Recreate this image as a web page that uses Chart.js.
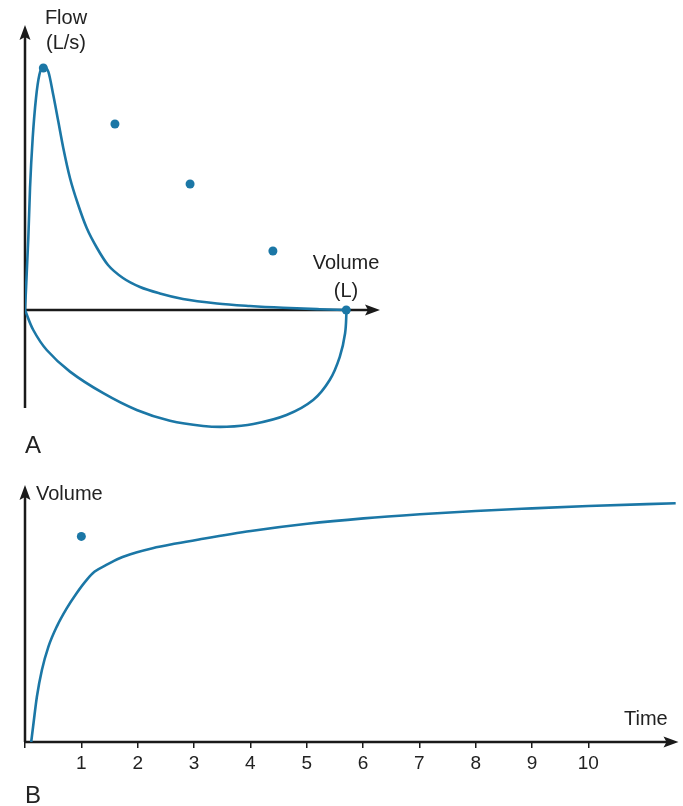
<!DOCTYPE html>
<html>
<head>
<meta charset="utf-8">
<script src="https://cdn.jsdelivr.net/npm/chart.js@4"></script>
<style>
  body { margin: 0; background: #fff; }
  #wrap { position: relative; width: 683px; height: 806px; overflow: hidden; font-family: 'Liberation Sans', Arial, sans-serif; color: #222; }
  canvas { position: absolute; left: 0; }
  .lbl { position: absolute; text-align: center; font-size: 20px; white-space: nowrap; }
  .panel { position: absolute; font-size: 24px; line-height: 28px; }
</style>
</head>
<body>
<div id="wrap">
  <canvas id="loop" width="683" height="460" style="top:0"></canvas>
  <canvas id="curve" width="683" height="336" style="top:470px"></canvas>

  <div class="lbl" style="left:36px; top:5px; width:60px; line-height:25px">Flow<br>(L/s)</div>
  <div class="lbl" style="left:301px; top:248px; width:90px; line-height:28px">Volume<br>(L)</div>
  <div class="panel" style="left:25px; top:431px">A</div>

  <div class="lbl" style="left:36px; top:481px; line-height:24px">Volume</div>
  <div class="lbl" style="left:624px; top:706px; line-height:24px">Time</div>
  <div class="panel" style="left:25px; top:781px">B</div>
</div>

<script>
// A: flow-volume loop
const expVolume = [0, 0.056, 0.085, 0.13, 0.186, 0.242, 0.309, 0.394, 0.478, 0.563, 0.647, 0.76, 0.90, 1.043, 1.217, 1.403, 1.656, 1.944, 2.28, 2.67, 3.245, 3.80, 4.36, 4.985, 5.425]
const expFlow = [0, 1.8, 3.05, 4.3, 5.3, 5.875, 6.08, 5.96, 5.375, 4.71, 4.05, 3.3, 2.625, 2.05, 1.55, 1.125, 0.8, 0.575, 0.4125, 0.275, 0.1625, 0.1, 0.055, 0.02, 0]
const inspVolume = [0, 0.14, 0.367, 0.76, 1.323, 1.888, 2.45, 3.01, 3.41, 3.86, 4.42, 4.87, 5.15, 5.32, 5.41, 5.435]
const inspFlow = [0, -0.5, -1.0, -1.54, -2.08, -2.5, -2.77, -2.9, -2.92, -2.85, -2.625, -2.25, -1.75, -1.17, -0.58, 0]
const dotVolume = [0.31, 1.52, 2.79, 4.19, 5.43]
const dotFlow = [6.05, 4.65, 3.15, 1.475, 0]

// B: volume-time curve
const timeValues = [0.11, 0.151, 0.211, 0.30, 0.416, 0.564, 0.74, 0.916, 1.092, 1.238, 1.444, 1.679, 1.973, 2.265, 2.677, 3.088, 4.01, 5.01, 6.01, 7.01, 8.0, 9.0, 10.0, 11.55]
const volumeValues = [0, 7.3, 17.6, 28.0, 37.1, 44.9, 52.0, 57.9, 63.0, 66.3, 68.9, 71.5, 73.7, 75.4, 77.2, 78.8, 82.1, 84.9, 87.0, 88.6, 89.9, 90.9, 91.8, 92.9]
const dotTime = [1.0]
const dotVolumeB = [80]
const timeTicks = [0, 1, 2, 3, 4, 5, 6, 7, 8, 9, 10]

const blue = '#1b77a6'
const ink = '#1a1a1a'

const toPoints = (xs, ys) => xs.map((x, i) => ({ x, y: ys[i] }))

// draws the two axes with arrow heads
const arrowAxes = {
  id: 'arrowAxes',
  beforeDatasetsDraw(chart, args, opts) {
    const { ctx, scales } = chart
    const xs = scales.x
    const ys = scales.y
    const x0 = xs.getPixelForValue(0)
    const y0 = ys.getPixelForValue(0)
    const xEnd = xs.getPixelForValue(opts.xEnd)
    const yTop = ys.getPixelForValue(opts.yTop)
    const yBottom = ys.getPixelForValue(opts.yBottom)
    ctx.save()
    ctx.strokeStyle = ink
    ctx.fillStyle = ink
    ctx.lineWidth = 2.5
    ctx.beginPath()
    ctx.moveTo(x0, yBottom)
    ctx.lineTo(x0, yTop + 8)
    ctx.moveTo(x0 - 1, y0)
    ctx.lineTo(xEnd - 8, y0)
    ctx.stroke()
    // up arrow
    ctx.beginPath()
    ctx.moveTo(x0, yTop)
    ctx.lineTo(x0 - 5.5, yTop + 15)
    ctx.lineTo(x0, yTop + 12)
    ctx.lineTo(x0 + 5.5, yTop + 15)
    ctx.closePath()
    ctx.fill()
    // right arrow
    ctx.beginPath()
    ctx.moveTo(xEnd, y0)
    ctx.lineTo(xEnd - 15, y0 - 5.5)
    ctx.lineTo(xEnd - 12, y0)
    ctx.lineTo(xEnd - 15, y0 + 5.5)
    ctx.closePath()
    ctx.fill()
    ctx.restore()
  },
}

new Chart(document.getElementById('loop'), {
  type: 'scatter',
  data: {
    datasets: [
      {
        data: toPoints(expVolume, expFlow),
        showLine: true,
        borderColor: blue,
        borderWidth: 2.6,
        pointRadius: 0,
        cubicInterpolationMode: 'monotone',
      },
      {
        data: toPoints(inspVolume, inspFlow),
        showLine: true,
        borderColor: blue,
        borderWidth: 2.6,
        pointRadius: 0,
        tension: 0.35,
      },
      {
        data: toPoints(dotVolume, dotFlow),
        pointRadius: 4.5,
        backgroundColor: blue,
        borderWidth: 0,
      },
    ],
  },
  options: {
    responsive: false,
    animation: false,
    events: [],
    layout: { padding: { left: 25, right: 303, top: 25, bottom: 10 } },
    scales: {
      x: { type: 'linear', min: 0, max: 6, display: false },
      y: { type: 'linear', min: -3.5, max: 7.125, display: false },
    },
    plugins: {
      legend: { display: false },
      tooltip: { enabled: false },
      arrowAxes: { xEnd: 6, yTop: 7.125, yBottom: -2.45 },
    },
  },
  plugins: [arrowAxes],
})

new Chart(document.getElementById('curve'), {
  type: 'scatter',
  data: {
    datasets: [
      {
        data: toPoints(timeValues, volumeValues),
        showLine: true,
        borderColor: blue,
        borderWidth: 2.6,
        pointRadius: 0,
        cubicInterpolationMode: 'monotone',
      },
      {
        data: toPoints(dotTime, dotVolumeB),
        pointRadius: 4.5,
        backgroundColor: blue,
        borderWidth: 0,
      },
    ],
  },
  options: {
    responsive: false,
    animation: false,
    events: [],
    layout: { padding: { left: 25, right: 0, top: 15, bottom: 0 } },
    scales: {
      x: {
        type: 'linear',
        min: 0,
        max: 11.6,
        afterBuildTicks: (scale) => {
          scale.ticks = timeTicks.map((v) => ({ value: v }))
        },
        afterFit: (scale) => {
          scale.height = 64
        },
        border: { display: false },
        grid: {
          drawOnChartArea: false,
          drawTicks: true,
          tickLength: 6,
          color: ink,
          lineWidth: 1.5,
        },
        ticks: {
          padding: 4,
          color: '#222',
          maxRotation: 0,
          autoSkip: false,
          font: { family: "'Liberation Sans', Arial, sans-serif", size: 19 },
          callback: (v) => (v === 0 ? '' : v),
        },
      },
      y: { type: 'linear', min: 0, max: 100, display: false },
    },
    plugins: {
      legend: { display: false },
      tooltip: { enabled: false },
      arrowAxes: { xEnd: 11.6, yTop: 100, yBottom: 0 },
    },
  },
  plugins: [arrowAxes],
})
</script>
</body>
</html>
